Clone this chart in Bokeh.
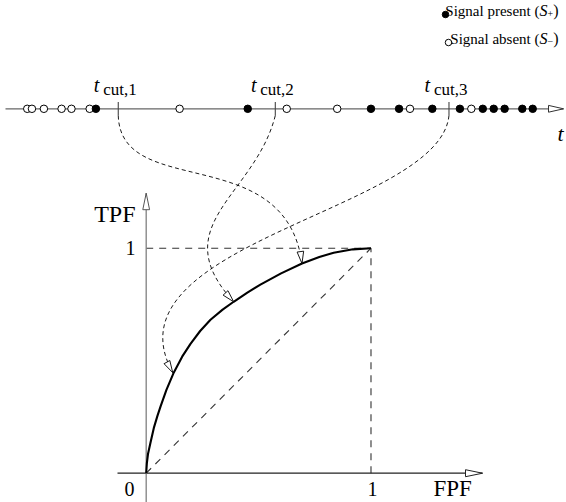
import math
from bokeh.plotting import figure
from bokeh.models import Range1d
from bokeh.embed import file_html
from bokeh.resources import INLINE
from bokeh.core.properties import value

# ---------------- data ----------------
t_absent = [0.13, 0.22, 0.45, 0.79, 0.98, 1.33, 3.06, 5.12, 6.09, 7.49, 8.67]   # S- scores
t_present = [1.45, 4.37, 6.74, 7.28, 7.92, 8.45, 8.89, 9.10, 9.31, 9.65, 9.85]  # S+ scores
t_cut = [1.88, 4.90, 8.24]
cut_subs = ["cut,1", "cut,2", "cut,3"]
roc_fpf = [0.0, 0.003, 0.008, 0.019, 0.035, 0.05, 0.064, 0.09, 0.123, 0.16, 0.197, 0.24,
           0.286, 0.34, 0.389, 0.45, 0.508, 0.6, 0.693, 0.77, 0.834, 0.92, 1.0]
roc_tpf = [0.0, 0.045, 0.085, 0.135, 0.205, 0.255, 0.297, 0.37, 0.448, 0.518, 0.575, 0.632,
           0.682, 0.727, 0.762, 0.803, 0.838, 0.888, 0.932, 0.961, 0.980, 0.995, 1.0]
op_fpf = [0.693, 0.389, 0.118]   # ROC point reached by cut 1, 2, 3
op_tpf = [0.932, 0.762, 0.447]
legend_main = ["Signal present (", "Signal absent ("]
legend_sub = ["+", "\u2212"]
x_tick_labels = ["0", "1"]
y_tick_labels = ["1"]

# ---------------- geometry ----------------
W, H = 566, 502
X0, X1 = -0.6481, 1.8697
Y0, Y1 = -0.1302, 2.1009
T0, T1 = -0.3846, 10.5
SX = W / (X1 - X0)
SY = H / (Y1 - Y0)
ST = W / (T1 - T0)
TXT_DY = 7  # text baseline correction (px)

def px2x(px):
    return X0 + px / SX

def py2y(py):
    return Y1 - py / SY

def ty(py):
    return py2y(py - TXT_DY)

def t2x(t):
    return px2x((t - T0) * ST)

def px2t(px):
    return T0 + px / ST

def head(tx, ty_, dxp, dyp, L, hw):
    n = math.hypot(dxp, dyp)
    ux, uy = dxp / n, dyp / n
    bx, by = -L * ux, -L * uy
    nx, ny = -uy, ux
    pts = [(0, 0), (bx + hw * nx, by + hw * ny), (bx - hw * nx, by - hw * ny)]
    return [tx + a / SX for a, b in pts], [ty_ - b / SY for a, b in pts]

FONT = value("Liberation Serif")
NUM_Y = py2y(108.3)

p = figure(width=W, height=H, output_backend="svg", toolbar_location=None,
           x_range=Range1d(X0, X1), y_range=Range1d(Y0, Y1),
           x_axis_location=None, y_axis_location=None, min_border=0)
p.extra_x_ranges = {"t": Range1d(T0, T1)}
p.min_border_left = p.min_border_right = p.min_border_top = p.min_border_bottom = 0
p.outline_line_color = None
p.grid.visible = False
p.background_fill_color = "white"

# ---------- reference dashed lines ----------
p.segment(x0=[0, 1, 0], y0=[1, 0, 0], x1=[1, 1, 1], y1=[1, 1, 1],
          line_color="#333333", line_width=1.1, line_dash="7 6")

# ---------- ROC axes ----------
xa_start, xa_tip = px2x(117), px2x(482)
p.line([xa_start, xa_tip], [0, 0], line_color="#222222", line_width=1.2)
hx, hy = head(xa_tip, 0, 1, 0, 17, 3.5)
p.patch(hx, hy, fill_color="white", line_color="#222222", line_width=1)

ya_tip = py2y(192.7)
p.line([0, 0], [Y0, ya_tip], line_color="#808080", line_width=1.3)
hx, hy = head(0, ya_tip, 0, -1, 16.5, 3.4)
p.patch(hx, hy, fill_color="white", line_color="#555555", line_width=1)

# ---------- ROC curve ----------
p.line(roc_fpf, roc_tpf, line_color="black", line_width=2.1, line_join="round")

# ---------- number line ----------
nl_tip = px2t(563)
p.line([px2t(5), nl_tip], [NUM_Y, NUM_Y], x_range_name="t", line_color="#666666", line_width=1.3)
hx, hy = head(t2x(nl_tip), NUM_Y, 1, 0, 15, 3.4)
p.patch(hx, hy, fill_color="white", line_color="#333333", line_width=1)

tick_half = 6.7 / SY
p.segment(x0=t_cut, y0=[NUM_Y - tick_half] * 3, x1=t_cut, y1=[NUM_Y + tick_half] * 3,
          x_range_name="t", line_color="#444444", line_width=1.1)

p.scatter(t_absent, [NUM_Y] * len(t_absent), x_range_name="t", size=7.5,
          fill_color="white", line_color="black", line_width=1)
p.scatter(t_present, [NUM_Y] * len(t_present), x_range_name="t", size=7.5,
          fill_color="black", line_color="black", line_width=1)

# cut labels
p.text([t - 24.4 / ST for t in t_cut], [ty(91.7)] * 3, text=["t"] * 3, x_range_name="t",
       text_font=FONT, text_font_style="italic", text_font_size="20px",
       text_baseline="alphabetic", text_align="left", text_color="black")
p.text([t - 15.0 / ST for t in t_cut], [ty(95.7)] * 3, text=cut_subs, x_range_name="t",
       text_font=FONT, text_font_size="17px",
       text_baseline="alphabetic", text_align="left", text_color="black")

# ---------- connectors ----------
OUT = [(2.3, 85), (-20, 80), (-9, 95)]
IN = [(16.5, 123), (70.3, 76.7), (71.7, 130)]
sx = [t2x(t) for t in t_cut]
sy = [NUM_Y - tick_half] * 3
cx0 = [sx[i] + OUT[i][0] / SX for i in range(3)]
cy0 = [sy[i] - OUT[i][1] / SY for i in range(3)]
cx1 = [op_fpf[i] - IN[i][0] / SX for i in range(3)]
cy1 = [op_tpf[i] + IN[i][1] / SY for i in range(3)]
p.bezier(x0=sx, y0=sy, x1=op_fpf, y1=op_tpf, cx0=cx0, cy0=cy0, cx1=cx1, cy1=cy1,
         line_color="black", line_width=0.9, line_dash="4 3")
for i in range(3):
    hx, hy = head(op_fpf[i], op_tpf[i], IN[i][0], IN[i][1], 12, 3.3)
    p.patch(hx, hy, fill_color="white", line_color="black", line_width=0.9)

# ---------- axis texts ----------
p.text([px2x(135)], [ty(220)], text=["TPF"], text_font=FONT, text_font_size="24px",
       text_align="right", text_baseline="alphabetic", text_color="black")
p.text([px2x(433)], [ty(495)], text=["FPF"], text_font=FONT, text_font_size="23px",
       text_align="left", text_baseline="alphabetic", text_color="black")
p.text([px2x(129), px2x(372)], [ty(495)] * 2, text=x_tick_labels, text_font=FONT,
       text_font_size="20px", text_align="center", text_baseline="alphabetic", text_color="black")
p.text([px2x(130)], [ty(254)], text=y_tick_labels, text_font=FONT,
       text_font_size="20px", text_align="center", text_baseline="alphabetic", text_color="black")
p.text([px2x(563)], [ty(140)], text=["t"], text_font=FONT, text_font_style="italic",
       text_font_size="22px", text_align="right", text_baseline="alphabetic", text_color="black")

# ---------- legend ----------
base = [ty(17), ty(45)]
p.scatter([px2x(445)], [py2y(14)], size=6.5, fill_color="black", line_color="black")
p.scatter([px2x(448)], [py2y(42)], size=6.5, fill_color="white", line_color="black", line_width=1)
p.text([px2x(558)] * 2, base, text=[")", ")"], text_font=FONT, text_font_size="16px",
       text_align="right", text_baseline="alphabetic", text_color="black")
p.text([px2x(552.7)] * 2, [b - 3 / SY for b in base], text=legend_sub, text_font=FONT,
       text_font_size="10px", text_align="right", text_baseline="alphabetic", text_color="black")
p.text([px2x(547)] * 2, base, text=["S", "S"], text_font=FONT, text_font_style="italic",
       text_font_size="16px", text_align="right", text_baseline="alphabetic", text_color="black")
p.text([px2x(539)] * 2, base, text=legend_main, text_font=FONT, text_font_size="15px",
       text_align="right", text_baseline="alphabetic", text_color="black")

open("out.html", "w").write(file_html(p, INLINE))
